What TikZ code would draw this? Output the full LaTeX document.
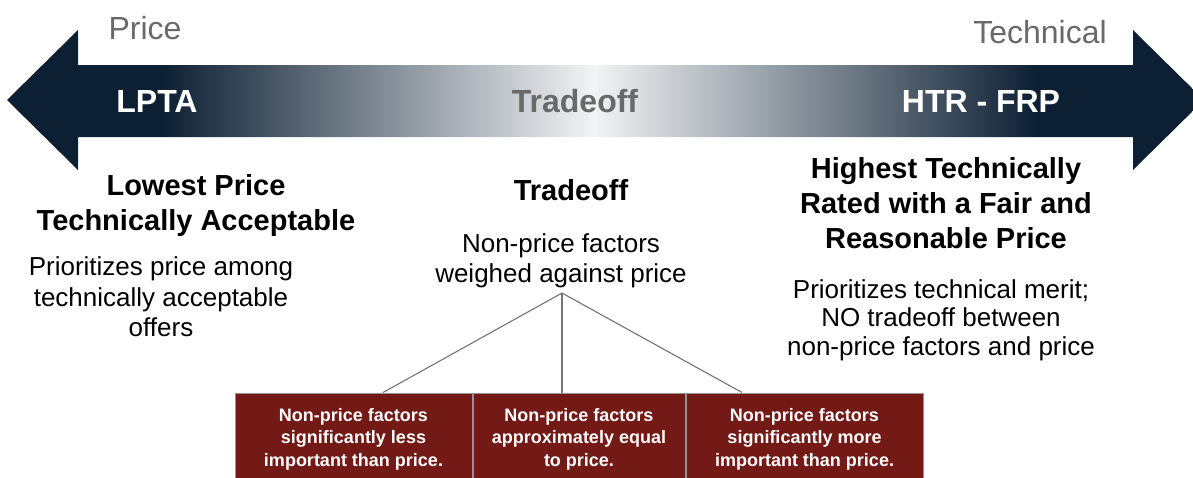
\documentclass[tikz,border=0pt]{standalone}
\usepackage{fontspec}
\setmainfont{Liberation Sans}
\usetikzlibrary{positioning}

\definecolor{navy}{RGB}{13,32,51}
\definecolor{mist}{RGB}{242,243,244}
\definecolor{label}{RGB}{105,105,105}
\definecolor{wine}{RGB}{115,26,23}
\pgfdeclarehorizontalshading{fade}{100bp}{color(0bp)=(navy); color(31.5bp)=(navy);
  color(49.5bp)=(mist); color(68bp)=(navy); color(100bp)=(navy)}

\tikzstyle{axislabel}=[font=\fontsize{32}{36}\selectfont,text=label,anchor=base,inner sep=0pt]
\tikzstyle{method}=[font=\bfseries\fontsize{32}{36}\selectfont,text=white,anchor=base,inner sep=0pt]
\tikzstyle{heading}=[font=\bfseries\fontsize{29}{35}\selectfont,align=center,inner sep=0pt]
\tikzstyle{blurb}=[font=\fontsize{26}{30.5}\selectfont,align=center,inner sep=0pt]
\tikzstyle{factor}=[draw=gray!85,line width=1pt,fill=wine,text=white,align=center,
  font=\bfseries\fontsize{18}{22.5}\selectfont,minimum height=92pt,inner sep=0pt]
\tikzstyle{spoke}=[draw=gray!90!black,line width=1.1pt]
\newcommand{\px}{1pt}

\begin{document}
\begin{tikzpicture}[x=\px, y=-\px]
    \clip (0,0) rectangle (1193,477);
    % The double headed arrow, dark at both ends
    \path[shading=fade] (7,100) -- (78,30) -- (78,65) -- (1133,65) -- (1133,30)
        -- (1204,100) -- (1133,170) -- (1133,137) -- (78,137) -- (78,170) -- cycle;
    \node[axislabel] (price) at (145,39) {Price};
    \node[axislabel] (technical) at (1040,43) {Technical};
    \node[method] (lpta) at (157,112) {LPTA};
    \node[method,text=label] (middle) at (575,112) {Tradeoff};
    \node[method] (htr) at (981,112) {HTR - FRP};

    % Headings and descriptions under the arrow
    \node[heading] (lptahead) at (196,205) {Lowest Price\\Technically Acceptable};
    \node[blurb] (lptatext) at (161,297) {Prioritizes price among\\technically acceptable\\offers};
    \node[heading,anchor=base] (tradehead) at (571,200) {Tradeoff};
    \node[blurb,text depth=0pt] (tradetext) at (561,258) {Non-price factors\\weighed against price};
    \node[heading] (htrhead) at (946,203) {Highest Technically\\Rated with a Fair and\\Reasonable Price};
    \node[blurb,font=\fontsize{26}{28.5}\selectfont] (htrtext) at (941,320) {Prioritizes technical merit;\\NO tradeoff between\\non-price factors and price};

    % The three kinds of tradeoff
    \node[factor,minimum width=237pt] (less) at (353.5,439) {Non-price factors\\significantly less\\important than price.};
    \node[factor,minimum width=212pt,right=0pt of less] (equal) {Non-price factors\\approximately equal\\to price.};
    \node[factor,minimum width=237pt,right=0pt of equal] (more) {Non-price factors\\significantly more\\important than price.};

    % Connect the tradeoff text with each box
    \coordinate (hub) at (562,293);
    \foreach \dest/\shift in {less/29.5, equal/-17, more/-62.5}
        \path[spoke] (hub) -- ([xshift=\shift pt]\dest.north);
\end{tikzpicture}
\end{document}
